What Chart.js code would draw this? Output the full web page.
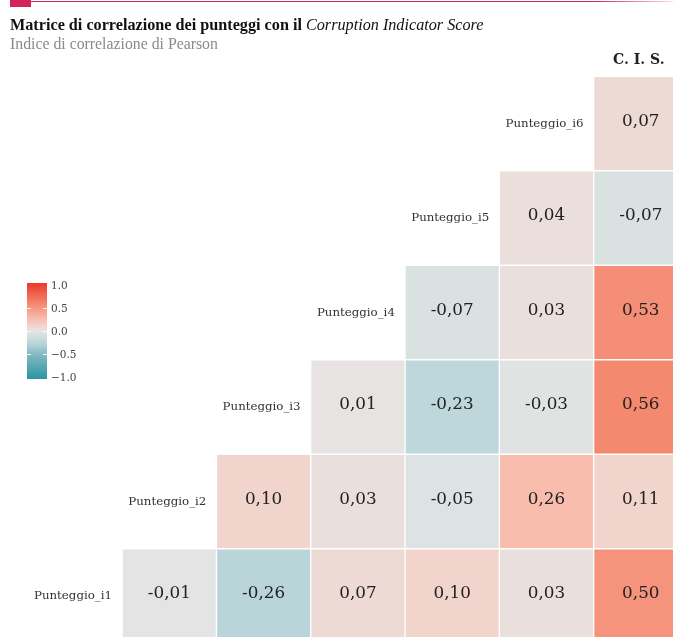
<!DOCTYPE html>
<html><head><meta charset="utf-8">
<script src="https://cdn.jsdelivr.net/npm/chart.js@4.4.1/dist/chart.umd.min.js"></script>
<style>
html,body{margin:0;padding:0;overflow:hidden;background:#fff;width:673px;height:637px;}
#wrap{position:relative;width:673px;height:637px;overflow:hidden;}
#chart{position:absolute;left:0;top:0;}
.topline{position:absolute;left:10px;top:1px;width:663px;height:1px;background:linear-gradient(to right,#d2245a 0%,#d2245a 88%,rgba(210,36,90,0.15) 100%);}
.topbar{position:absolute;left:10px;top:0;width:21px;height:7px;background:#d2245a;}
.title{position:absolute;left:10px;top:16px;font:bold 16.2px "Liberation Serif",serif;color:#111;white-space:nowrap;}
.title i{font-style:italic;font-weight:normal;}
.subtitle{position:absolute;left:10px;top:35px;font:15.8px "Liberation Serif",serif;color:#8a8a8a;white-space:nowrap;}
.cbar{position:absolute;left:27px;top:283px;width:20px;height:96px;}
.ctick{position:absolute;height:1px;width:4px;background:rgba(255,255,255,0.9);}
.clab{position:absolute;left:51px;font:10.5px "DejaVu Serif",serif;color:#444;line-height:10px;}
</style>
</head><body>
<div id="wrap">
<canvas id="chart" width="700" height="637"></canvas>
<div class="topline"></div><div class="topbar"></div>
<div class="title">Matrice di correlazione dei punteggi con il <i>Corruption Indicator Score</i></div>
<div class="subtitle">Indice di correlazione di Pearson</div>
<div class="cbar" id="cbar"></div>
<div id="clabs"></div>
</div>
<script>
// ---- data ----
const rowNames = ['Punteggio_i1','Punteggio_i2','Punteggio_i3','Punteggio_i4','Punteggio_i5','Punteggio_i6'];
const colNames = ['Punteggio_i2','Punteggio_i3','Punteggio_i4','Punteggio_i5','Punteggio_i6','C. I. S.'];
const corr_i1 = [-0.01, -0.26, 0.07, 0.10, 0.03, 0.50];
const corr_i2 = [0.10, 0.03, -0.05, 0.26, 0.11];
const corr_i3 = [0.01, -0.23, -0.03, 0.56];
const corr_i4 = [-0.07, 0.03, 0.53];
const corr_i5 = [0.04, -0.07];
const corr_i6 = [0.07];
const legendTicks = [1.0, 0.5, 0.0, -0.5, -1.0];

// ---- colours ----
const stops = [[-1,[45,148,163]],[-0.5,[128,184,194]],[-0.26,[185,213,218]],[0,[230,229,228]],
  [0.1,[241,213,205]],[0.26,[248,189,173]],[0.56,[244,137,112]],[1,[236,56,42]]];
function colorFor(v){
  for(let i=0;i<stops.length-1;i++){
    const [a,ca]=stops[i],[b,cb]=stops[i+1];
    if(v>=a && v<=b){
      const t=(v-a)/(b-a);
      const c=ca.map((x,k)=>Math.round(x+(cb[k]-x)*t));
      return `rgb(${c[0]},${c[1]},${c[2]})`;
    }
  }
  return v<0?`rgb(${stops[0][1].join(',')})`:`rgb(${stops[stops.length-1][1].join(',')})`;
}
const fmt = v => v.toFixed(2).replace('.', ',');

// ---- cells ----
const allRows = [corr_i1, corr_i2, corr_i3, corr_i4, corr_i5, corr_i6];
const cells = [];
allRows.forEach((vals, r) => {
  vals.forEach((v, k) => {
    const col = r + 1 + k; // column position; row label sits at column r
    cells.push({x: col, y: [r - 0.5, r + 0.5], v: v});
  });
});

// ---- legend (colour bar) ----
(function(){
  const bar = document.getElementById('cbar');
  const parts = [];
  for(let i=0;i<=20;i++){ const v=-1+i*0.1; parts.push(colorFor(v)+' '+(i*5)+'%'); }
  bar.style.background = 'linear-gradient(to top,'+parts.join(',')+')';
  const labs = document.getElementById('clabs');
  legendTicks.forEach(t => {
    const y = 331 - t*46;
    const l = document.createElement('div'); l.className='clab';
    l.style.top = (y-5)+'px';
    l.textContent = (t<0?'\u2212':'') + Math.abs(t).toFixed(1);
    labs.appendChild(l);
    if (Math.abs(t) < 1) {
      [27, 43].forEach(x => { const m=document.createElement('div'); m.className='ctick'; m.style.left=x+'px'; m.style.top=Math.round(y)+'px'; labs.appendChild(m); });
    }
  });
})();

const textPlugin = {
  id: 'cellText',
  afterDatasetsDraw(chart){
    const ctx = chart.ctx, xs = chart.scales.x, ys = chart.scales.y;
    ctx.save();
    ctx.textAlign = 'center';
    ctx.textBaseline = 'middle';
    ctx.fillStyle = '#222';
    ctx.font = '16.8px "DejaVu Serif", serif';
    const meta = chart.getDatasetMeta(0);
    meta.data.forEach((el, i) => {
      const raw = chart.data.datasets[0].data[i];
      ctx.fillText(fmt(raw.v), el.x, (el.y + el.base) / 2 - 2);
    });
    ctx.font = '11.8px "DejaVu Serif", serif';
    ctx.fillStyle = '#333';
    rowNames.forEach((n, r) => ctx.fillText(n, xs.getPixelForValue(r) - 2, ys.getPixelForValue(r)));
    ctx.font = 'bold 14px "DejaVu Serif", serif';
    ctx.fillStyle = '#222';
    ctx.fillText(colNames[5], xs.getPixelForValue(6) - 2, ys.getPixelForValue(5.67));
    ctx.restore();
  }
};

new Chart(document.getElementById('chart'), {
  type: 'bar',
  data: { datasets: [{
    data: cells,
    backgroundColor: c => colorFor(c.raw ? c.raw.v : 0),
    borderColor: 'rgba(255,255,255,0.4)',
    borderWidth: 1,
    borderSkipped: false,
    barPercentage: 1,
    categoryPercentage: 1
  }]},
  options: {
    responsive: false,
    animation: false,
    events: [],
    layout: { padding: 0 },
    plugins: { legend: {display:false}, title:{display:false}, tooltip:{enabled:false} },
    scales: {
      x: { type:'linear', display:false, offset:false, min:-0.7953, max:6.6278, ticks:{stepSize:1, includeBounds:false}, grid:{display:false} },
      y: { type:'linear', display:false, min:-0.4339, max:6.3069, ticks:{stepSize:1, includeBounds:false}, grid:{display:false} }
    }
  },
  plugins: [textPlugin]
});
</script>
</body></html>
